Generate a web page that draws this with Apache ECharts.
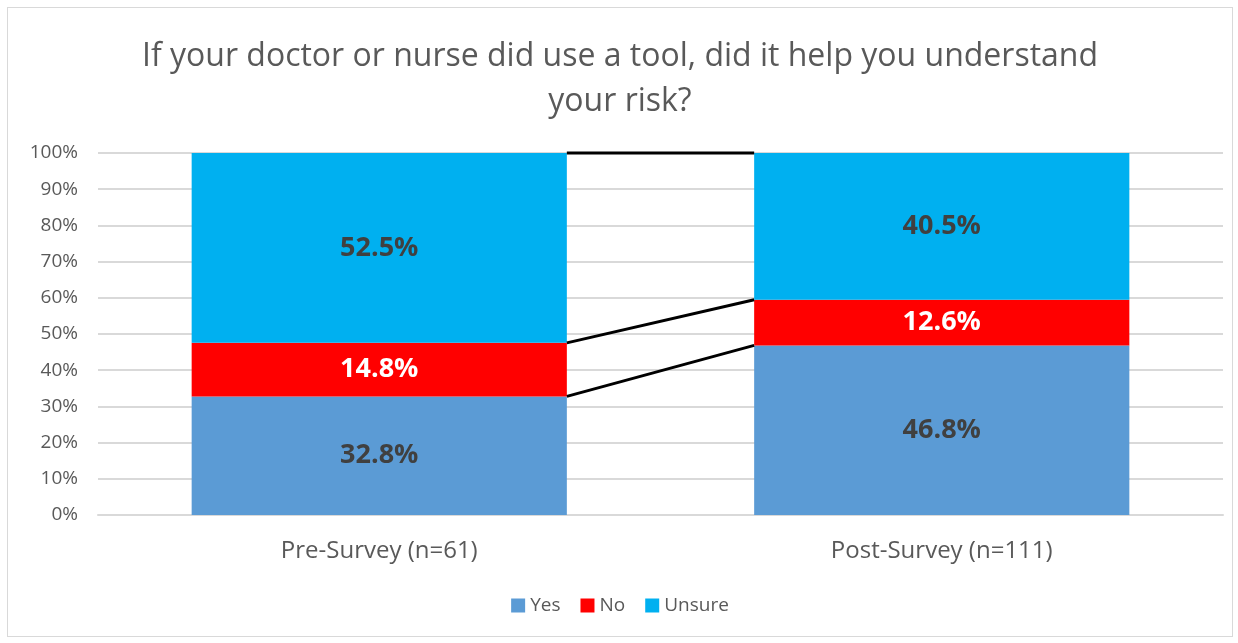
<!DOCTYPE html>
<html>
<head>
<meta charset="utf-8">
<script src="https://cdn.jsdelivr.net/npm/echarts@6/dist/echarts.min.js"></script>
<style>
  html, body { margin: 0; padding: 0; background: #fff; }
  #charts { position: absolute; left: 7px; top: 7px; width: 1224px; height: 628px; border: 1px solid #d9d9d9; }
</style>
</head>
<body>
<div id="charts"></div>
<script>
// data
var categories = ['Pre-Survey (n=61)', 'Post-Survey (n=111)'];
var seriesNames = ['Yes', 'No', 'Unsure'];
var yesVals = [32.8, 46.8];
var noVals = [14.8, 12.6];
var unsureVals = [52.5, 40.5];
var colors = ['#5B9BD5', '#FF0000', '#00B0F0'];
var labelColors = ['#404040', '#ffffff', '#404040'];

var raw = [yesVals, noVals, unsureVals];
// 100% stacked: normalise each column
var totals = categories.map(function (c, i) {
    return raw.reduce(function (s, arr) { return s + arr[i]; }, 0);
});
var shares = raw.map(function (arr) {
    return arr.map(function (v, i) { return v / totals[i] * 100; });
});
var barFrac = 0.667;

var font = 'Open Sans';
var myChart = echarts.init(document.getElementById('charts'));

var series = seriesNames.map(function (name, k) {
    return {
        name: name,
        type: 'bar',
        stack: 'all',
        barWidth: (barFrac * 100) + '%',
        itemStyle: { color: colors[k] },
        label: {
            show: true,
            position: 'inside',
            fontFamily: font,
            fontSize: 27,
            fontWeight: 'bold',
            color: labelColors[k],
            formatter: function (p) { return raw[k][p.dataIndex].toFixed(1) + '%'; }
        },
        data: shares[k]
    };
});

// series lines between the two bars
var cumTops = shares.map(function (arr, k) {
    return categories.map(function (c, i) {
        var s = 0;
        for (var j = 0; j <= k; j++) s += shares[j][i];
        return s;
    });
});
series.push({
    type: 'custom',
    name: 'lines',
    silent: true,
    z: 5,
    renderItem: function (params, api) {
        var k = params.dataIndex;
        var a = api.coord([0, cumTops[k][0]]);
        var b = api.coord([1, cumTops[k][1]]);
        var half = api.size([1, 0])[0] * barFrac / 2;
        return {
            type: 'line',
            shape: { x1: a[0] + half, y1: a[1], x2: b[0] - half, y2: b[1] },
            style: { stroke: '#000', lineWidth: 3 }
        };
    },
    data: [0, 1, 2]
});

myChart.setOption({
    title: {
        text: 'If your doctor or nurse did use a tool, did it help you understand\nyour risk?',
        left: 'center',
        top: 21,
        textStyle: { fontFamily: font, fontSize: 32, fontWeight: 'normal', color: '#595959', lineHeight: 45 }
    },
    legend: {
        data: seriesNames,
        bottom: 16,
        left: 'center',
        itemWidth: 14,
        itemHeight: 14,
        itemGap: 20,
        icon: 'rect',
        textStyle: { fontFamily: font, fontSize: 19, color: '#595959' }
    },
    grid: { left: 90, right: 9, top: 145, bottom: 121 },
    xAxis: {
        type: 'category',
        data: categories,
        axisTick: { show: false },
        axisLine: { lineStyle: { color: '#d9d9d9', width: 2 } },
        axisLabel: { fontFamily: font, fontSize: 24, color: '#595959', margin: 24 }
    },
    yAxis: {
        type: 'value',
        min: 0,
        max: 100,
        interval: 10,
        axisLabel: { fontFamily: font, fontSize: 19, color: '#595959', formatter: '{value}%', margin: 20 },
        splitLine: { lineStyle: { color: '#d9d9d9', width: 2 } }
    },
    series: series
});
</script>
</body>
</html>
